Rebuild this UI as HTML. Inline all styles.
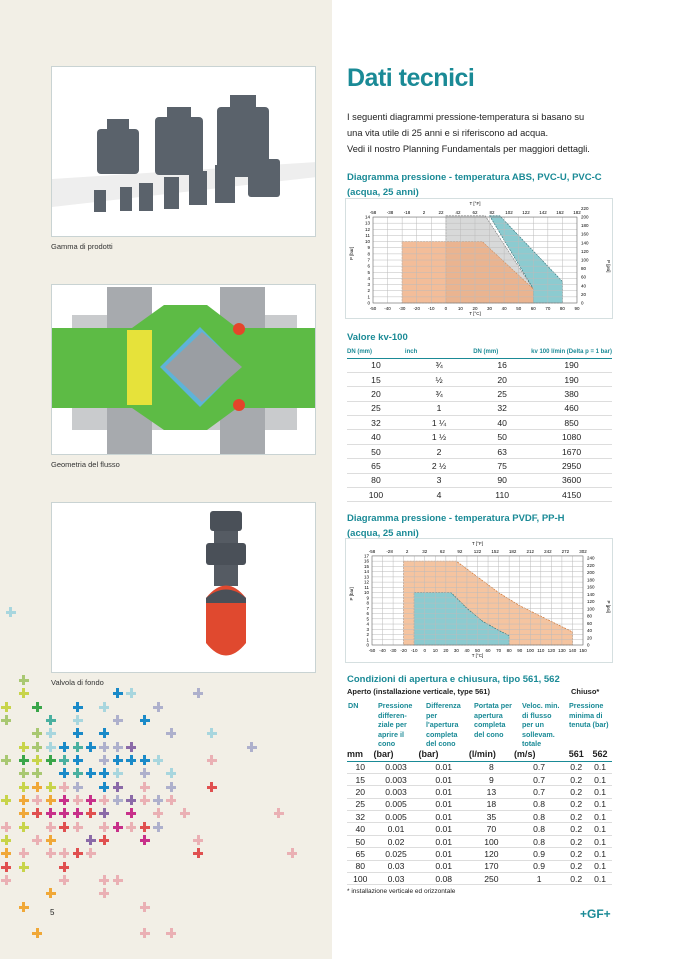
<!DOCTYPE html>
<html><head><meta charset="utf-8">
<style>
*{margin:0;padding:0;box-sizing:border-box}
body{width:678px;height:959px;position:relative;overflow:hidden;background:#fff;font-family:"Liberation Sans",sans-serif;color:#222}
#left{position:absolute;left:0;top:0;width:332px;height:959px;background:#f2efe6}
.img{position:absolute;left:51px;width:265px;background:#fff;border:1px solid #c9d3d3;overflow:hidden}
.cap{position:absolute;left:51px;font-size:7.5px;color:#333}
.t{position:absolute;white-space:nowrap}
.teal{color:#1a8a96}
.h{font-weight:bold;font-size:9.5px;color:#1a8a96}
.p{font-size:9.3px;color:#222}
.cr{position:absolute;width:10px;height:10px}
.cr:before{content:"";position:absolute;left:3.5px;top:0;width:3px;height:10px;background:var(--c)}
.cr:after{content:"";position:absolute;left:0;top:3.5px;width:10px;height:3px;background:var(--c)}
table{border-collapse:collapse}
#kv{position:absolute;left:347px;top:346px;width:265px;font-size:8.6px}
#kv td{height:14.4px;text-align:center;border-bottom:1px solid #ddd;padding:0}
#kv th{font-size:6px;color:#1a8a96;text-align:center;height:12px;border-bottom:1.5px solid #1a8a96;font-weight:bold;white-space:nowrap}
#ct{position:absolute;left:347px;top:748px;width:265px;font-size:8.6px}
#ct td{height:12.4px;text-align:center;border-bottom:1px solid #ddd;padding:0}
#ct tr.hd td{font-weight:bold;font-size:9px;border-bottom:1.5px solid #1a8a96;height:13px}
.ch{font-size:7.2px;color:#1a8a96;font-weight:bold;line-height:9.6px}
</style></head><body>
<div id="left"></div>

<div class="img" style="top:66px;height:171px">
<svg width="265" height="171">
<path d="M0 112 L265 95 L265 110 L0 140Z" fill="#eee"/>
<g fill="#5a626b">
<rect x="45" y="62" width="42" height="45" rx="4"/><rect x="55" y="52" width="22" height="12"/>
<rect x="103" y="50" width="48" height="58" rx="4"/><rect x="115" y="40" width="24" height="12"/>
<rect x="165" y="40" width="52" height="70" rx="4"/><rect x="178" y="28" width="26" height="14"/>
<rect x="196" y="92" width="32" height="38" rx="3"/>
<rect x="42" y="123" width="12" height="22"/><rect x="68" y="120" width="12" height="24"/>
<rect x="87" y="116" width="14" height="28"/><rect x="112" y="110" width="15" height="32"/>
<rect x="137" y="104" width="18" height="34"/><rect x="163" y="98" width="20" height="38"/>
</g></svg></div>
<div class="cap" style="top:242px">Gamma di prodotti</div>

<div class="img" style="top:284px;height:171px">
<svg width="265" height="171">
<rect x="20" y="30" width="225" height="115" fill="#c9cbcd"/>
<rect x="55" y="2" width="45" height="167" fill="#a7aaae"/><rect x="168" y="2" width="45" height="167" fill="#a7aaae"/>
<path d="M0 43 L80 43 L112 20 L155 20 L185 43 L265 43 L265 123 L185 123 L155 145 L112 145 L80 123 L0 123Z" fill="#5dbb45"/>
<path d="M75 45 L100 45 L100 120 L75 120Z" fill="#e6e23a"/>
<path d="M108 82 L148 42 L188 82 L148 122Z" fill="#5fb3d8"/>
<path d="M113 82 L150 47 L190 82 L150 117Z" fill="#9a9ea3"/>
<circle cx="187" cy="44" r="6" fill="#e5452a"/><circle cx="187" cy="120" r="6" fill="#e5452a"/>
</svg></div>
<div class="cap" style="top:460px">Geometria del flusso</div>

<div class="img" style="top:502px;height:171px">
<svg width="265" height="171">
<rect x="158" y="8" width="32" height="20" rx="3" fill="#4a5058"/>
<rect x="162" y="28" width="24" height="55" fill="#555b63"/>
<rect x="154" y="40" width="40" height="22" rx="3" fill="#4a5058"/>
<path d="M154 95 Q174 70 194 95 L194 140 Q174 165 154 140Z" fill="#e0492f"/>
<path d="M154 95 Q174 78 194 95 L194 100 L154 100Z" fill="#4a5058"/>
</svg></div>
<div class="cap" style="top:678px">Valvola di fondo</div>

<div id="crosses"></div>
<div class="t" style="left:50px;top:908px;font-size:8px">5</div>

<!-- right -->
<div class="t teal" style="left:347px;top:64px;font-size:25px;font-weight:bold;letter-spacing:-0.5px">Dati tecnici</div>
<div class="t p" style="left:347px;top:109px;line-height:16px">I seguenti diagrammi pressione-temperatura si basano su<br>una vita utile di 25 anni e si riferiscono ad acqua.<br>Vedi il nostro Planning Fundamentals per maggiori dettagli.</div>
<div class="t h" style="left:347px;top:170px;line-height:15px">Diagramma pressione - temperatura ABS, PVC-U, PVC-C<br>(acqua, 25 anni)</div>
<svg id="c1" style="position:absolute;left:345px;top:198px" width="268" height="121"></svg>

<div class="t h" style="left:347px;top:332px">Valore kv-100</div>
<table id="kv">
<tr><th style="text-align:left;width:22%">DN (mm)</th><th style="text-align:left;width:26%">inch</th><th style="text-align:left;width:22%">DN (mm)</th><th style="text-align:left;width:30%">kv 100 l/min (Delta p = 1 bar)</th></tr>
<tr><td>10</td><td>¾</td><td>16</td><td>190</td></tr>
<tr><td>15</td><td>½</td><td>20</td><td>190</td></tr>
<tr><td>20</td><td>¾</td><td>25</td><td>380</td></tr>
<tr><td>25</td><td>1</td><td>32</td><td>460</td></tr>
<tr><td>32</td><td>1 ¼</td><td>40</td><td>850</td></tr>
<tr><td>40</td><td>1 ½</td><td>50</td><td>1080</td></tr>
<tr><td>50</td><td>2</td><td>63</td><td>1670</td></tr>
<tr><td>65</td><td>2 ½</td><td>75</td><td>2950</td></tr>
<tr><td>80</td><td>3</td><td>90</td><td>3600</td></tr>
<tr><td>100</td><td>4</td><td>110</td><td>4150</td></tr>
</table>

<div class="t h" style="left:347px;top:511px;line-height:15px">Diagramma pressione - temperatura PVDF, PP-H<br>(acqua, 25 anni)</div>
<svg id="c2" style="position:absolute;left:345px;top:538px" width="268" height="125"></svg>

<div class="t h" style="left:347px;top:674px">Condizioni di apertura e chiusura, tipo 561, 562</div>
<div class="t" style="left:347px;top:687px;font-size:7.5px;font-weight:bold">Aperto (installazione verticale, type 561)</div>
<div class="t" style="left:571px;top:687px;font-size:7.5px;font-weight:bold">Chiuso*</div>
<div class="t ch" style="left:348px;top:701px">DN</div>
<div class="t ch" style="left:378px;top:701px">Pressione<br>differen-<br>ziale per<br>aprire il<br>cono</div>
<div class="t ch" style="left:426px;top:701px">Differenza<br>per<br>l'apertura<br>completa<br>del cono</div>
<div class="t ch" style="left:474px;top:701px">Portata per<br>apertura<br>completa<br>del cono</div>
<div class="t ch" style="left:522px;top:701px">Veloc. min.<br>di flusso<br>per un<br>sollevam.<br>totale</div>
<div class="t ch" style="left:569px;top:701px">Pressione<br>minima di<br>tenuta (bar)</div>
<table id="ct">
<colgroup><col style="width:10%"><col style="width:17%"><col style="width:19%"><col style="width:17%"><col style="width:19%"><col style="width:9%"><col style="width:9%"></colgroup>
<tr class="hd"><td style="text-align:left">mm</td><td style="text-align:left">(bar)</td><td style="text-align:left">(bar)</td><td style="text-align:left">(l/min)</td><td style="text-align:left">(m/s)</td><td>561</td><td>562</td></tr>
<tr><td>10</td><td>0.003</td><td>0.01</td><td>8</td><td>0.7</td><td>0.2</td><td>0.1</td></tr>
<tr><td>15</td><td>0.003</td><td>0.01</td><td>9</td><td>0.7</td><td>0.2</td><td>0.1</td></tr>
<tr><td>20</td><td>0.003</td><td>0.01</td><td>13</td><td>0.7</td><td>0.2</td><td>0.1</td></tr>
<tr><td>25</td><td>0.005</td><td>0.01</td><td>18</td><td>0.8</td><td>0.2</td><td>0.1</td></tr>
<tr><td>32</td><td>0.005</td><td>0.01</td><td>35</td><td>0.8</td><td>0.2</td><td>0.1</td></tr>
<tr><td>40</td><td>0.01</td><td>0.01</td><td>70</td><td>0.8</td><td>0.2</td><td>0.1</td></tr>
<tr><td>50</td><td>0.02</td><td>0.01</td><td>100</td><td>0.8</td><td>0.2</td><td>0.1</td></tr>
<tr><td>65</td><td>0.025</td><td>0.01</td><td>120</td><td>0.9</td><td>0.2</td><td>0.1</td></tr>
<tr><td>80</td><td>0.03</td><td>0.01</td><td>170</td><td>0.9</td><td>0.2</td><td>0.1</td></tr>
<tr><td>100</td><td>0.03</td><td>0.08</td><td>250</td><td>1</td><td>0.2</td><td>0.1</td></tr>
</table>
<div class="t" style="left:347px;top:888px;font-size:6.5px">* installazione verticale ed orizzontale</div>
<div class="t teal" style="left:580px;top:907px;font-size:12px;font-weight:bold">+GF+</div>

<script>
var C={y:"#c8d44a",g:"#3aa64a",b:"#1a8ac8",c:"#a8d6de",l:"#a9c872",p:"#8b6aa8",v:"#aeb0cc",m:"#c8308a",r:"#e05050",k:"#eab0b4",o:"#f0a838",t:"#4ab0a0"};
var rows=[[612,{1:"c"}],[680,{4:"l"}],[693,{4:"y",25:"b",28:"c",43:"v"}],[707,{0:"y",7:"g",16:"b",22:"c",34:"v"}],[720,{0:"l",10:"t",16:"c",25:"v",31:"b"}],[733,{7:"l",10:"c",16:"b",22:"b",37:"v",46:"c"}],[747,{4:"y",7:"l",10:"c",13:"b",16:"t",19:"b",22:"v",25:"v",28:"p",55:"v"}],[760,{0:"l",4:"g",7:"y",10:"g",13:"t",16:"b",22:"v",25:"b",28:"b",31:"b",34:"c",46:"k"}],[773,{4:"l",7:"l",13:"b",16:"t",19:"b",22:"b",25:"c",31:"v",37:"c"}],[787,{4:"y",7:"o",10:"y",13:"k",16:"v",22:"b",25:"p",31:"k",37:"v",46:"r"}],[800,{0:"y",4:"o",7:"k",10:"o",13:"m",16:"k",19:"m",22:"k",25:"v",28:"p",31:"k",34:"v",37:"k"}],[813,{4:"o",7:"r",10:"m",13:"m",16:"m",19:"r",22:"p",28:"m",34:"k",40:"k",61:"k"}],[827,{0:"k",4:"y",10:"k",13:"r",16:"k",22:"k",25:"m",28:"k",31:"r",34:"v"}],[840,{0:"y",7:"k",10:"o",19:"p",22:"r",31:"m",43:"k"}],[853,{0:"o",4:"k",10:"k",13:"k",16:"r",19:"k",43:"r",64:"k"}],[867,{0:"r",4:"y",13:"r"}],[880,{0:"k",13:"k",22:"k",25:"k"}],[893,{10:"o",22:"k"}],[907,{4:"o",31:"k"}],[933,{7:"o",31:"k",37:"k"}]];
var h="";rows.forEach(function(r){for(var k in r[1]){var x=1+k*4.47;h+='<div class="cr" style="left:'+x.toFixed(1)+'px;top:'+(r[0]-5)+'px;--c:'+C[r[1][k]]+'"></div>';}});
document.getElementById("crosses").innerHTML=h;

function chart(id,W,H,o){
 var s='<rect x="0.5" y="0.5" width="'+(W-1)+'" height="'+(H-1)+'" fill="#fff" stroke="#d5dfe0"/>';
 var X=function(t){return o.x0+(t-o.tmin)*o.sx};var Y=function(p){return o.y0-p*o.sy};
 o.poly.forEach(function(pp){s+=pp});
 for(var t=o.tmin;t<=o.tmax;t+=10){s+='<line x1="'+X(t)+'" y1="'+Y(o.pmax)+'" x2="'+X(t)+'" y2="'+o.y0+'" stroke="#bbb" stroke-width="0.5"/><text x="'+X(t)+'" y="'+(o.y0+7)+'" font-size="4.5" text-anchor="middle">'+t+'</text>';}
 for(var p=0;p<=o.pmax;p++){s+='<line x1="'+X(o.tmin)+'" y1="'+Y(p)+'" x2="'+X(o.tmax)+'" y2="'+Y(p)+'" stroke="#bbb" stroke-width="0.5"/><text x="'+(X(o.tmin)-3)+'" y="'+(Y(p)+1.5)+'" font-size="4.5" text-anchor="end">'+p+'</text>';}
 s+='<rect x="'+X(o.tmin)+'" y="'+Y(o.pmax)+'" width="'+(X(o.tmax)-X(o.tmin))+'" height="'+(o.pmax*o.sy)+'" fill="none" stroke="#777" stroke-width="0.6"/>';
 o.ft.forEach(function(f,i){s+='<text x="'+(X(o.tmin)+i*(X(o.tmax)-X(o.tmin))/(o.ft.length-1))+'" y="'+(Y(o.pmax)-3)+'" font-size="4.5" text-anchor="middle">'+f+'</text>';});
 o.psi.forEach(function(f,i){s+='<text x="'+(X(o.tmax)+4)+'" y="'+(o.y0-i*o.psiStep+1.5)+'" font-size="4.5">'+f+'</text>';});
 s+='<text x="'+X(o.tmid)+'" y="'+(o.y0+12)+'" font-size="4.5" text-anchor="middle">T [°C]</text><text x="'+X(o.tmid)+'" y="7" font-size="4.5" text-anchor="middle">T [°F]</text>';
 s+='<text x="8" y="'+(Y(o.pmax/2))+'" font-size="4.5" transform="rotate(-90 8 '+Y(o.pmax/2)+')">P [bar]</text>';
 s+='<text x="'+(W-6)+'" y="'+(Y(o.pmax/2))+'" font-size="4.5" transform="rotate(90 '+(W-6)+' '+Y(o.pmax/2)+')">P [psi]</text>';
 document.getElementById(id).innerHTML=s;
}
(function(){
 var x0=28,sx=1.457,y0=105,sy=6.14,X=function(t){return x0+(t+50)*sx},Y=function(p){return y0-p*sy};
 var pt=function(a){return a.map(function(q){return X(q[0]).toFixed(1)+","+Y(q[1]).toFixed(1)}).join(" ")};
 var gray='<polygon points="'+pt([[0,14.2],[27,14.2],[60,2.3],[60,0],[0,0]])+'" fill="#cfd0d0" opacity="0.8" stroke="#555" stroke-dasharray="2,1" stroke-width="0.6"/>';
 var teal='<polygon points="'+pt([[30,14.2],[37,14.2],[80,3.5],[80,0],[60,0],[60,2.3]])+'" fill="#8ccbd0" stroke="#2a6a70" stroke-dasharray="2,1" stroke-width="0.6"/>';
 var orng='<polygon points="'+pt([[-30,10],[25,10],[60,2.3],[60,0],[-30,0]])+'" fill="#f0a878" opacity="0.75" stroke="#d0702a" stroke-dasharray="2,1" stroke-width="0.6"/>';
 chart("c1",268,121,{x0:x0,sx:sx,y0:y0,sy:sy,tmin:-50,tmax:90,tmid:20,pmax:14,poly:[gray,teal,orng],ft:["-58","-38","-18","2","22","42","62","82","102","122","142","162","182"],psi:["0","20","40","60","80","100","120","140","160","180","200","220"],psiStep:8.6});
 var x1=27,sx2=1.055,y1=107,sy2=5.24,X2=function(t){return x1+(t+50)*sx2},Y2=function(p){return y1-p*sy2};
 var pt2=function(a){return a.map(function(q){return X2(q[0]).toFixed(1)+","+Y2(q[1]).toFixed(1)}).join(" ")};
 var or2='<polygon points="'+pt2([[-20,16],[30,16],[50,13],[70,10],[90,7.5],[110,5.5],[140,2.5],[140,0],[-20,0]])+'" fill="#f5c4a0" stroke="#d0702a" stroke-dasharray="2,1" stroke-width="0.7"/>';
 var te2='<polygon points="'+pt2([[-10,10],[25,10],[40,7],[55,4.5],[70,2.8],[80,1.8],[80,0],[-10,0]])+'" fill="#8ccbd0" stroke="#2a6a70" stroke-dasharray="2,1" stroke-width="0.6"/>';
 chart("c2",268,125,{x0:x1,sx:sx2,y0:y1,sy:sy2,tmin:-50,tmax:150,tmid:50,pmax:17,poly:[or2,te2],ft:["-58","-28","2","32","62","92","122","152","182","212","242","272","302"],psi:["0","20","40","60","80","100","120","140","160","180","200","220","240"],psiStep:7.23});
})();
</script>
</body></html>
